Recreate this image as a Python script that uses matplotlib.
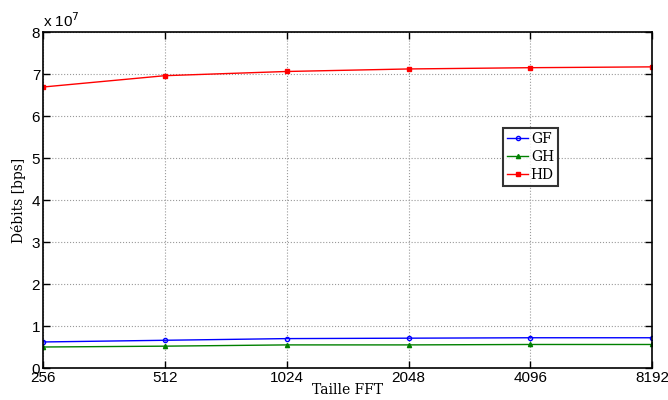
import matplotlib
matplotlib.use("Agg")
import matplotlib.pyplot as plt
import numpy as np

# data
fft_sizes = [256, 512, 1024, 2048, 4096, 8192]
gf = [0.62e7, 0.66e7, 0.70e7, 0.71e7, 0.72e7, 0.72e7]
gh = [0.50e7, 0.52e7, 0.55e7, 0.55e7, 0.56e7, 0.56e7]
hd = [6.69e7, 6.96e7, 7.06e7, 7.12e7, 7.15e7, 7.17e7]

plt.rcParams['font.family'] = 'Liberation Sans'

fig = plt.figure(figsize=(6.68, 4.0), dpi=100)
ax = fig.add_axes([0.0644, 0.08, 0.912, 0.84])

ax.plot(fft_sizes, gf, color='blue', marker='o', ms=3, mfc='none', mew=1, lw=1, label='GF')
ax.plot(fft_sizes, gh, color='green', marker='^', ms=3, lw=1, label='GH')
ax.plot(fft_sizes, hd, color='red', marker='s', ms=2.5, lw=1, label='HD')

ax.set_xscale('log', base=2)
ax.set_xlim(256, 8192)
ax.set_xticks(fft_sizes)
ax.set_xticklabels([str(v) for v in fft_sizes])
ax.minorticks_off()
ax.set_ylim(0, 8e7)
ax.set_yticks(np.arange(0, 9) * 1e7)
ax.set_yticklabels([str(i) for i in range(9)])
ax.text(0.0, 1.005, r'x 10$^{7}$', transform=ax.transAxes, fontsize=11, va='bottom', ha='left')

ax.grid(True, linestyle=':', color='#999999', lw=0.8)
ax.tick_params(direction='in', labelsize=11, length=5, width=1, pad=2, top=True, right=True)
for s in ax.spines.values():
    s.set_linewidth(1.2)

ax.set_xlabel('Taille FFT', family='DejaVu Serif', fontsize=10, labelpad=-1)
ax.set_ylabel('Débits [bps]', family='DejaVu Serif', fontsize=10, labelpad=4)

leg = ax.legend(loc='upper left', bbox_to_anchor=(0.755, 0.715), fancybox=False,
                edgecolor='black', prop={'family': 'DejaVu Serif', 'size': 10},
                handlelength=1.5, handletextpad=0.2, borderpad=0.3, labelspacing=0.3,
                borderaxespad=0)
leg.get_frame().set_linewidth(1.5)

fig.savefig('out.png', dpi=100)
